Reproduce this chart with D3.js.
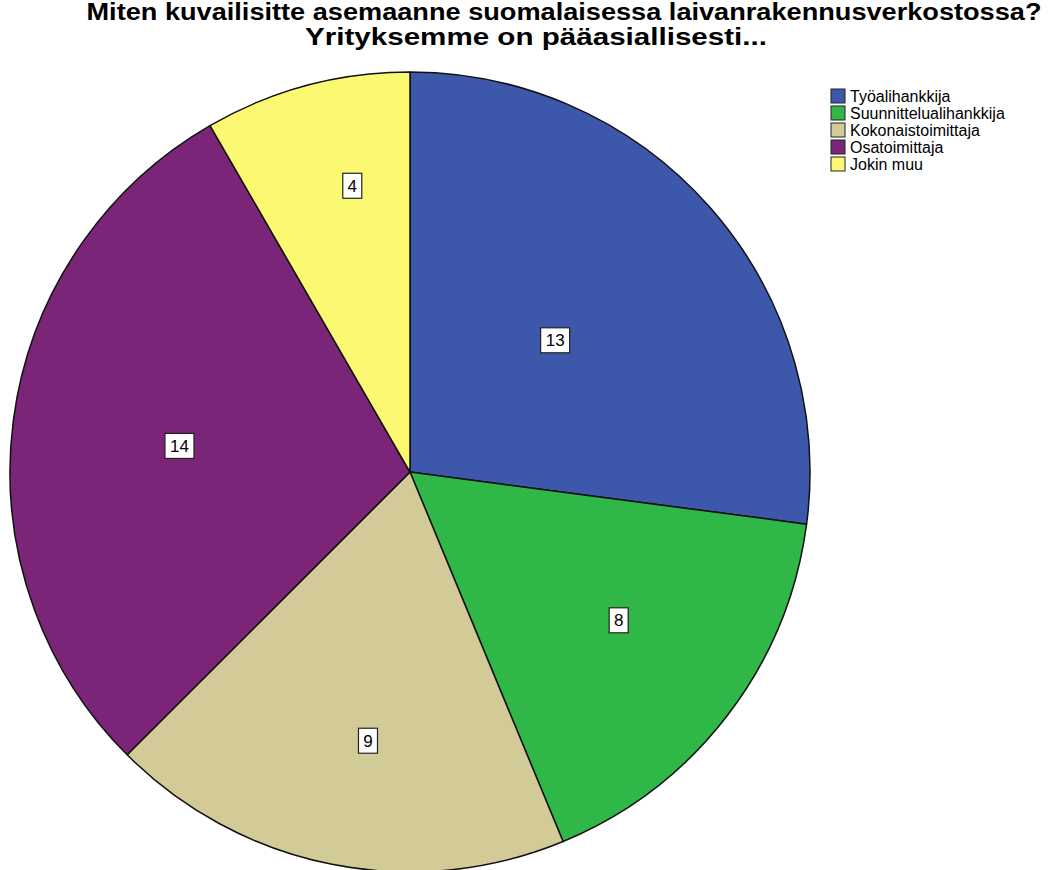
<!DOCTYPE html>
<html>
<head>
<meta charset="utf-8">
<script src="https://cdn.jsdelivr.net/npm/d3@7"></script>
<style>
  html, body { margin: 0; padding: 0; background: #fff; }
  svg { display: block; }
</style>
</head>
<body>
<svg id="chart" width="1056" height="870"></svg>
<script>
// Survey answers: number of companies per role
const categories = ["Työalihankkija", "Suunnittelualihankkija", "Kokonaistoimittaja", "Osatoimittaja", "Jokin muu"];
const counts = [13, 8, 9, 14, 4];
const colors = ["#3d57ab", "#2fb847", "#d3cb97", "#7a2577", "#fbf872"];
const titleLines = ["Miten kuvailisitte asemaanne suomalaisessa laivanrakennusverkostossa?", "Yrityksemme on pääasiallisesti..."];

const svg = d3.select("#chart");
const cx = 410, cy = 472, R = 400;

// Title: two lines, slightly stretched bold sans
const titleX = [564, 536];
const titleW = [955, 462];
svg.append("g").selectAll("text")
  .data(titleLines)
  .join("text")
  .attr("x", (d, i) => titleX[i])
  .attr("y", (d, i) => 20 + i * 25)
  .attr("text-anchor", "middle")
  .attr("font-family", "Liberation Sans, Arial, sans-serif")
  .attr("font-weight", "bold")
  .attr("font-size", 23)
  .attr("textLength", (d, i) => titleW[i])
  .attr("lengthAdjust", "spacingAndGlyphs")
  .attr("fill", "#000")
  .text(d => d);

const data = categories.map((c, i) => ({ name: c, value: counts[i], color: colors[i] }));

const pie = d3.pie().value(d => d.value).sort(null);
const arcs = pie(data);
const arc = d3.arc().innerRadius(0).outerRadius(R);

const g = svg.append("g").attr("transform", `translate(${cx},${cy})`);

g.selectAll("path")
  .data(arcs)
  .join("path")
  .attr("d", arc)
  .attr("fill", d => d.data.color)
  .attr("stroke", "#111")
  .attr("stroke-width", 1.5)
  .attr("stroke-linejoin", "round");

// Value labels: boxed counts, placed at a fraction of each slice's sweep
// and at a fraction of the radius
const labelAngleFrac = [0.49, 0.465, 0.465, 0.49, 0.62];
const labelRadius = [0.49, 0.64, 0.68, 0.58, 0.73];
const labels = g.selectAll("g.lab")
  .data(arcs)
  .join("g")
  .attr("class", "lab")
  .attr("transform", (d, i) => {
    const a = d.startAngle + (d.endAngle - d.startAngle) * labelAngleFrac[i];
    const r = R * labelRadius[i];
    return `translate(${Math.sin(a) * r},${-Math.cos(a) * r})`;
  });

labels.each(function(d) {
  const sel = d3.select(this);
  const txt = String(d.data.value);
  const w = txt.length * 10 + 9;
  sel.append("rect")
    .attr("x", -w / 2).attr("y", -12.5)
    .attr("width", w).attr("height", 25)
    .attr("fill", "#fff")
    .attr("stroke", "#222")
    .attr("stroke-width", 1.2);
  sel.append("text")
    .attr("text-anchor", "middle")
    .attr("dy", "0.36em")
    .attr("font-family", "Liberation Sans, Arial, sans-serif")
    .attr("font-size", 17)
    .attr("fill", "#000")
    .text(txt);
});

// Legend
const legend = svg.append("g").attr("transform", "translate(831,89)");
const item = legend.selectAll("g")
  .data(data)
  .join("g")
  .attr("transform", (d, i) => `translate(0,${i * 17})`);
item.append("rect")
  .attr("width", 14).attr("height", 14)
  .attr("fill", d => d.color)
  .attr("stroke", "#222")
  .attr("stroke-width", 1);
item.append("text")
  .attr("x", 19).attr("y", 12.5)
  .attr("font-family", "Liberation Sans, Arial, sans-serif")
  .attr("font-size", 16)
  .attr("fill", "#000")
  .text(d => d.name);
</script>
</body>
</html>
